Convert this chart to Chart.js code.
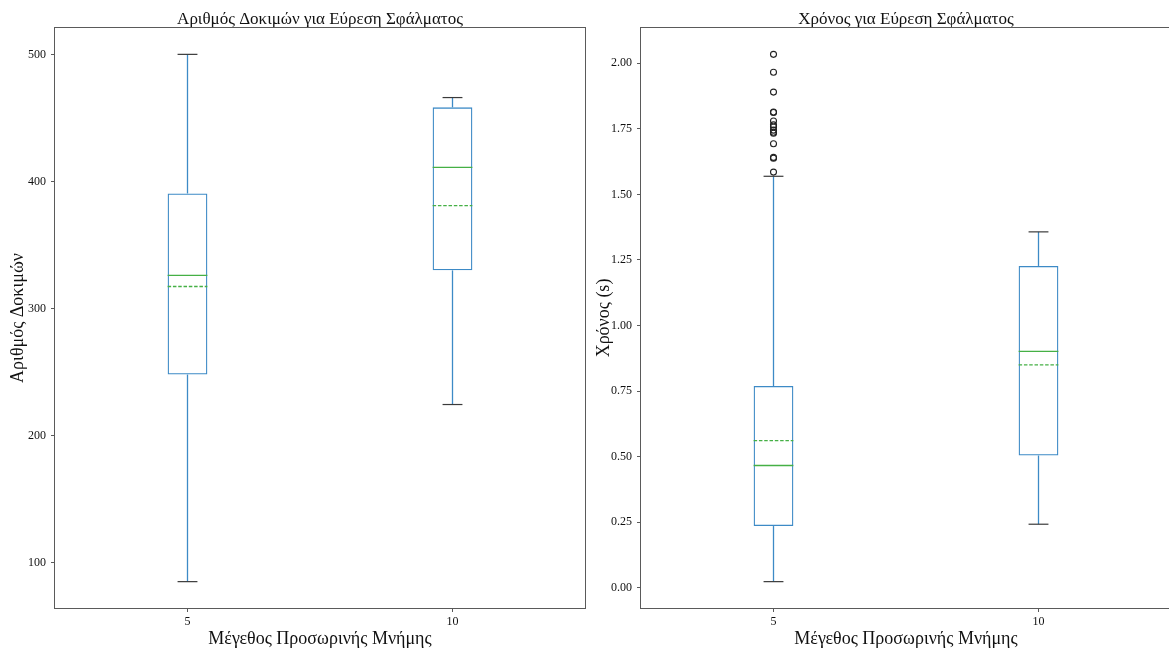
<!DOCTYPE html>
<html>
<head>
<meta charset="utf-8">
<script src="https://cdn.jsdelivr.net/npm/chart.js@4/dist/chart.umd.min.js"></script>
<style>
  html, body { margin: 0; padding: 0; background: #fff; overflow: hidden; width: 1169px; height: 653px; }
  #wrap { position: relative; width: 1169px; height: 653px; overflow: hidden; }
  .pane { position: absolute; top: 0; width: 640px; height: 653px; }
</style>
</head>
<body>
<div id="wrap">
  <div class="pane" style="left:0"><canvas id="trialsChart" width="640" height="653"></canvas></div>
  <div class="pane" style="left:586px"><canvas id="timeChart" width="640" height="653"></canvas></div>
</div>
<script>
// Cache sizes on the x axis
const cacheSizes = ['5', '10'];

// Number of trials until the fault is found
const trialsLow    = [85, 224.4];
const trialsQ1     = [248, 330];
const trialsMedian = [326, 411];
const trialsMean   = [317.3, 381];
const trialsQ3     = [390.5, 458.3];
const trialsHigh   = [500, 466];
const trialsOutliers5  = [];
const trialsOutliers10 = [];
const trialsTicks  = [100, 200, 300, 400, 500];

// Time until the fault is found (seconds)
const timeLow    = [0.023, 0.242];
const timeQ1     = [0.235, 0.504];
const timeMedian = [0.466, 0.901];
const timeMean   = [0.561, 0.850];
const timeQ3     = [0.769, 1.227];
const timeHigh   = [1.569, 1.357];
const timeOutliers5  = [2.034, 1.966, 1.890, 1.814, 1.812, 1.780, 1.765, 1.757, 1.745, 1.737, 1.733, 1.693, 1.641, 1.638, 1.585];
const timeOutliers10 = [];
const timeTicks  = [0.00, 0.25, 0.50, 0.75, 1.00, 1.25, 1.50, 1.75, 2.00];

const FONT = "'Liberation Serif', 'DejaVu Serif', serif";
const BOX_COLOR = '#3d8ac6';
const MED_COLOR = '#45b045';
const CAP_COLOR = '#3a3a3a';
const FRAME_COLOR = '#5a5a5a';
const TEXT_COLOR = '#111111';

// Whiskers, caps, medians, means and the axes frame
const boxStatsPlugin = {
  id: 'boxStats',
  afterDatasetsDraw(chart, args, opts) {
    const { ctx, scales: { y } } = chart;
    const meta = chart.getDatasetMeta(0);
    const py = v => y.getPixelForValue(v);
    const seg = (x1, y1, x2, y2) => { ctx.beginPath(); ctx.moveTo(x1, y1); ctx.lineTo(x2, y2); ctx.stroke(); };
    ctx.save();
    opts.low.forEach((_, i) => {
      const bar = meta.data[i];
      const cx = bar.x;
      const hw = bar.width / 2;
      ctx.lineWidth = 1.3;
      ctx.setLineDash([]);
      ctx.strokeStyle = BOX_COLOR;
      seg(cx, py(opts.q3[i]), cx, py(opts.high[i]));
      seg(cx, py(opts.q1[i]), cx, py(opts.low[i]));
      ctx.strokeStyle = CAP_COLOR;
      ctx.lineWidth = 1.2;
      seg(cx - hw / 2, py(opts.high[i]), cx + hw / 2, py(opts.high[i]));
      seg(cx - hw / 2, py(opts.low[i]), cx + hw / 2, py(opts.low[i]));
      ctx.lineWidth = 1.3;
      ctx.strokeStyle = MED_COLOR;
      seg(cx - hw, py(opts.median[i]), cx + hw, py(opts.median[i]));
      ctx.setLineDash([3.5, 1.8]);
      seg(cx - hw, py(opts.mean[i]), cx + hw, py(opts.mean[i]));
    });
    const a = chart.chartArea;
    ctx.lineWidth = 1;
    ctx.setLineDash([]);
    ctx.strokeStyle = FRAME_COLOR;
    ctx.strokeRect(Math.round(a.left) - 0.5, Math.round(a.top) - 0.5,
                   Math.round(a.right - a.left) + 1, Math.round(a.bottom - a.top) + 1);
    ctx.restore();
  }
};

function padRange(lo, hi) {
  const m = (hi - lo) * 0.05;
  return [lo - m, hi + m];
}

function makeBoxChart(canvasId, cfg) {
  const allVals = cfg.low.concat(cfg.high, cfg.outliers5, cfg.outliers10);
  const [ymin, ymax] = padRange(Math.min(...allVals), Math.max(...allVals));
  const outlierPoints = cfg.outliers5.map(v => ({ x: cacheSizes[0], y: v }))
    .concat(cfg.outliers10.map(v => ({ x: cacheSizes[1], y: v })));

  return new Chart(document.getElementById(canvasId), {
    type: 'bar',
    data: {
      labels: cacheSizes,
      datasets: [
        {
          type: 'bar',
          data: cfg.q1.map((q, i) => [q, cfg.q3[i]]),
          backgroundColor: 'rgba(0,0,0,0)',
          borderColor: BOX_COLOR,
          borderWidth: 1.3,
          borderSkipped: false,
          inflateAmount: 0,
          barPercentage: 0.15,
          categoryPercentage: 1.0
        },
        {
          type: 'line',
          data: outlierPoints,
          showLine: false,
          pointRadius: 3,
          pointHoverRadius: 3,
          pointBorderWidth: 1.1,
          pointBorderColor: '#222',
          pointBackgroundColor: 'rgba(0,0,0,0)'
        }
      ]
    },
    options: {
      responsive: false,
      animation: false,
      devicePixelRatio: 1,
      layout: { padding: { left: 0, right: 55, top: 0, bottom: 0 } },
      plugins: {
        legend: { display: false },
        tooltip: { enabled: false },
        title: {
          display: true,
          fullSize: false,
          text: cfg.title,
          color: TEXT_COLOR,
          font: { family: FONT, size: 17, weight: 'normal' },
          padding: { top: 9, bottom: -1.4 }
        },
        boxStats: cfg
      },
      scales: {
        x: {
          type: 'category',
          offset: true,
          grid: { display: true, offset: false, drawOnChartArea: false, drawTicks: true, tickLength: 4, color: FRAME_COLOR },
          border: { display: false },
          ticks: { color: TEXT_COLOR, font: { family: FONT, size: 12 }, padding: 3 },
          title: {
            display: true,
            text: 'Μέγεθος Προσωρινής Μνήμης',
            color: TEXT_COLOR,
            font: { family: FONT, size: 18 },
            padding: { top: 0, bottom: 3 }
          },
          afterFit: s => { s.height = 45; }
        },
        y: {
          type: 'linear',
          min: ymin,
          max: ymax,
          afterBuildTicks: s => { s.ticks = cfg.ticks.map(v => ({ value: v })); },
          grid: { display: true, drawOnChartArea: false, drawTicks: true, tickLength: 4, color: FRAME_COLOR },
          border: { display: false },
          ticks: {
            color: TEXT_COLOR,
            font: { family: FONT, size: 12 },
            padding: 5,
            callback: v => cfg.tickFormat(v)
          },
          title: {
            display: true,
            text: cfg.yTitle,
            color: TEXT_COLOR,
            font: { family: FONT, size: 18 },
            padding: { top: 7, bottom: 0 }
          },
          afterFit: s => { s.width = 55; }
        }
      }
    },
    plugins: [boxStatsPlugin]
  });
}

makeBoxChart('trialsChart', {
  title: 'Αριθμός Δοκιμών για Εύρεση Σφάλματος',
  yTitle: 'Αριθμός Δοκιμών',
  low: trialsLow, q1: trialsQ1, median: trialsMedian, mean: trialsMean, q3: trialsQ3, high: trialsHigh,
  outliers5: trialsOutliers5, outliers10: trialsOutliers10,
  ticks: trialsTicks,
  tickFormat: v => String(Math.round(v))
});

makeBoxChart('timeChart', {
  title: 'Χρόνος για Εύρεση Σφάλματος',
  yTitle: 'Χρόνος (s)',
  low: timeLow, q1: timeQ1, median: timeMedian, mean: timeMean, q3: timeQ3, high: timeHigh,
  outliers5: timeOutliers5, outliers10: timeOutliers10,
  ticks: timeTicks,
  tickFormat: v => v.toFixed(2)
});
</script>
</body>
</html>
